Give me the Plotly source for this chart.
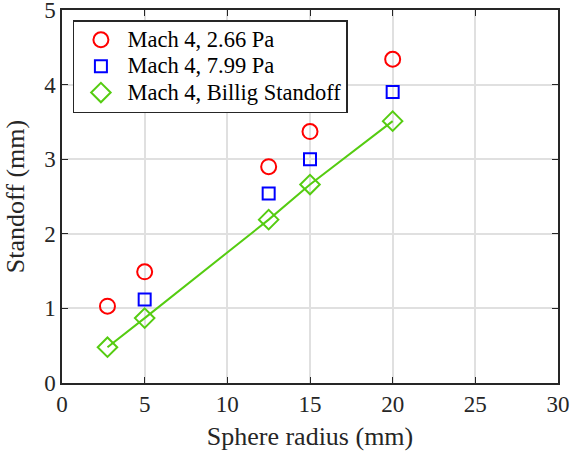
import plotly.graph_objects as go

radius_a = [2.75, 5, 12.5, 15, 20]
standoff_266 = [1.03, 1.49, 2.90, 3.37, 4.34]
radius_b = [5, 12.5, 15, 20]
standoff_799 = [1.12, 2.54, 3.00, 3.90]
radius_c = [2.75, 5, 12.5, 15, 20]
standoff_billig = [0.48, 0.87, 2.19, 2.66, 3.51]
names = ["Mach 4, 2.66 Pa", "Mach 4, 7.99 Pa", "Mach 4, Billig Standoff"]

font = "Liberation Serif"
green = "#55cc11"


def lbl(s):
    return '<span style="font-size:22.5px">' + s + "</span>"


fig = go.Figure()
fig.add_trace(go.Scatter(x=radius_c, y=standoff_billig, mode="lines", showlegend=False,
                         line=dict(color=green, width=2), hoverinfo="skip"))
fig.add_trace(go.Scatter(x=radius_a, y=standoff_266, mode="markers", name=lbl(names[0]),
                         marker=dict(symbol="circle-open", size=15, color="#ff0000", line=dict(width=2))))
fig.add_trace(go.Scatter(x=radius_b, y=standoff_799, mode="markers", name=lbl(names[1]),
                         marker=dict(symbol="square-open", size=12, color="#0000ff", line=dict(width=2))))
fig.add_trace(go.Scatter(x=radius_c, y=standoff_billig, mode="markers", name=lbl(names[2]),
                         marker=dict(symbol="diamond-open", size=15, color=green, line=dict(width=2))))

axis_common = dict(showline=True, linecolor="#262626", linewidth=1.5, mirror="allticks",
                   ticks="inside", ticklen=6, tickcolor="#262626", tickwidth=1,
                   showgrid=True, gridcolor="#e0e0e0", gridwidth=1.5, zeroline=False,
                   automargin=False, ticklabeloverflow="allow",
                   tickfont=dict(family=font, size=23, color="#262626"),
                   title_font=dict(family=font, size=26, color="#262626"))
fig.update_xaxes(range=[0, 30], dtick=5, title_text="Sphere radius (mm)", title_standoff=10, **axis_common)
fig.update_yaxes(range=[0, 5], dtick=1, title_text="Standoff (mm)", title_standoff=12, **axis_common)

fig.update_layout(
    width=573, height=458, plot_bgcolor="white", paper_bgcolor="white",
    margin=dict(l=62, r=15, t=10, b=75),
    font=dict(family=font, size=20, color="#262626"),
    legend=dict(x=0.022, y=0.973, xanchor="left", yanchor="top", bgcolor="white",
                bordercolor="#262626", borderwidth=1.5, font=dict(family=font, size=18, color="#000"),
                itemwidth=43, tracegroupgap=0),
    showlegend=True,
)
fig.write_html("out.html", config={"displayModeBar": False},
               post_script="document.body.style.margin='0';")
